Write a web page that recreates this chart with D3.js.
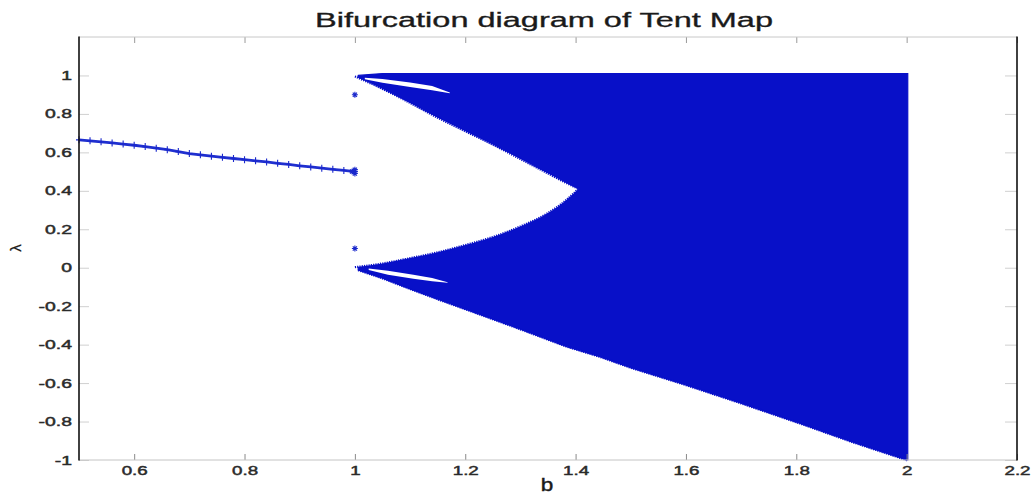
<!DOCTYPE html>
<html>
<head>
<meta charset="utf-8">
<script src="https://cdn.jsdelivr.net/npm/d3@7/dist/d3.min.js"></script>
<style>
  html, body { margin: 0; padding: 0; background: #fff; }
  svg { display: block; }
  text { font-family: "Liberation Sans", Arial, Helvetica, sans-serif; }
</style>
</head>
<body>
<svg id="chart" width="1033" height="496"></svg>
<script>
// ---- data -------------------------------------------------------------
// stable branch of the tent map (b < 1)
const branchB   = [0.50,0.52,0.54,0.56,0.58,0.60,0.62,0.64,0.66,0.68,0.70,0.72,0.74,
                   0.76,0.78,0.80,0.82,0.84,0.86,0.88,0.90,0.92,0.94,0.96,0.98,1.00];
const branchVal = [0.665,0.660,0.655,0.649,0.643,0.637,0.630,0.622,0.614,0.604,0.594,0.587,0.580,
                   0.574,0.568,0.562,0.556,0.550,0.543,0.537,0.530,0.524,0.518,0.512,0.506,0.500];

// isolated iterates at b = 1
const pointB   = [1.0, 1.0, 1.0, 1.0, 0.995];
const pointVal = [0.90, 0.10, 0.49, 0.51, 0.50];

// chaotic band envelope (b >= 1)
const envB      = [1.006, 1.05, 1.10, 1.154, 1.20, 1.30, 1.384, 1.444, 1.50, 1.60, 1.70, 1.807, 1.90, 2.00, 2.002];
const envTop    = [1.00, 1.01, 1.01, 1.01, 1.01, 1.01, 1.01, 1.01, 1.01, 1.01, 1.01, 1.01, 1.01, 1.01, 1.01];
const envBottom = [-0.012, -0.055, -0.11, -0.168, -0.215, -0.32, -0.41, -0.463, -0.52, -0.61, -0.705, -0.81, -0.905, -1.0, -1.0];

// empty window between the two bands, closing at b ≈ 1.405
const gapB      = [1.000, 1.05, 1.10, 1.15, 1.20, 1.25, 1.30, 1.35, 1.38, 1.405];
const gapTop    = [0.995, 0.93, 0.857, 0.78, 0.71, 0.64, 0.565, 0.49, 0.445, 0.41];
const gapBottom = [0.003, 0.022, 0.05, 0.08, 0.118, 0.16, 0.215, 0.285, 0.345, 0.41];

// thin empty slivers inside the upper and lower bands
const upLensB   = [1.018, 1.05, 1.10, 1.14, 1.172];
const upLensTop = [0.988, 0.982, 0.963, 0.945, 0.911];
const upLensBot = [0.980, 0.962, 0.940, 0.923, 0.908];
const loLensB   = [1.025, 1.06, 1.106, 1.14, 1.168];
const loLensTop = [-0.004, -0.016, -0.036, -0.054, -0.075];
const loLensBot = [-0.012, -0.036, -0.057, -0.070, -0.078];

// axes
const xTicks = [0.6, 0.8, 1, 1.2, 1.4, 1.6, 1.8, 2, 2.2];
const xTickLabels = ["0.6", "0.8", "1", "1.2", "1.4", "1.6", "1.8", "2", "2.2"];
const yTicks = [-1, -0.8, -0.6, -0.4, -0.2, 0, 0.2, 0.4, 0.6, 0.8, 1];
const yTickLabels = ["-1", "-0.8", "-0.6", "-0.4", "-0.2", "0", "0.2", "0.4", "0.6", "0.8", "1"];
const titleText = "Bifurcation diagram of Tent Map";
const xLabel = "b";
const yLabel = "λ";

// ---- layout -----------------------------------------------------------
const axLeft = 79, axRight = 1017, axTop = 37, axBottom = 460;
const BLUE = "#0810c8";

const svg = d3.select("#chart");
const x = d3.scaleLinear().domain([0.5, 2.2]).range([axLeft, axRight]);
const y = d3.scaleLinear().domain([-1, 1.2]).range([axBottom, axTop]);

// widen text horizontally to a given factor of its natural width
function stretch(sel, k) {
  sel.each(function () {
    const len = this.getComputedTextLength();
    d3.select(this).attr("textLength", len * k).attr("lengthAdjust", "spacingAndGlyphs");
  });
}

const zip3 = (b, hi, lo) => b.map((v, i) => ({ b: v, hi: hi[i], lo: lo[i] }));
const area = d3.area().x(d => x(d.b)).y0(d => y(d.lo)).y1(d => y(d.hi));
const edge = d3.line().x(d => x(d.b)).y(d => y(d.v));
const pairs = (b, v) => b.map((bb, i) => ({ b: bb, v: v[i] }));

const plot = svg.append("g");

// chaotic band
plot.append("path")
  .datum(zip3(envB, envTop, envBottom))
  .attr("d", area)
  .attr("fill", BLUE)
  .attr("stroke", BLUE)
  .attr("stroke-width", 1.2);

// ragged lower edge of the band
plot.append("path")
  .datum(pairs(envB, envBottom))
  .attr("d", edge)
  .attr("fill", "none")
  .attr("stroke", BLUE)
  .attr("stroke-width", 2.4)
  .attr("stroke-dasharray", "1.2 1.1");

// window and slivers
plot.append("path")
  .datum(zip3(gapB, gapTop, gapBottom))
  .attr("d", area.curve(d3.curveMonotoneX))
  .attr("fill", "#fff");
[gapTop, gapBottom].forEach(vs => {
  plot.append("path")
    .datum(pairs(gapB, vs))
    .attr("d", edge.curve(d3.curveMonotoneX))
    .attr("fill", "none")
    .attr("stroke", BLUE)
    .attr("stroke-width", 2.2)
    .attr("stroke-dasharray", "1.2 1.1");
});
area.curve(d3.curveLinear);
edge.curve(d3.curveLinear);
plot.append("path")
  .datum(zip3(upLensB, upLensTop, upLensBot))
  .attr("d", area)
  .attr("fill", "#fff");
plot.append("path")
  .datum(zip3(loLensB, loLensTop, loLensBot))
  .attr("d", area)
  .attr("fill", "#fff");

// stable branch: trace plus '+' markers
plot.append("path")
  .datum(pairs(branchB, branchVal))
  .attr("d", edge)
  .attr("fill", "none")
  .attr("stroke", "#2030d0")
  .attr("stroke-width", 2.8);
plot.append("g").selectAll("path")
  .data(pairs(branchB, branchVal))
  .join("path")
  .attr("d", d => `M${x(d.b) - 3},${y(d.v)}H${x(d.b) + 3}M${x(d.b)},${y(d.v) - 3.5}V${y(d.v) + 3.5}`)
  .attr("stroke", "#1a28cc")
  .attr("stroke-width", 1.1)
  .attr("fill", "none");

// '*' markers at b = 1
plot.append("g").selectAll("path")
  .data(pairs(pointB, pointVal))
  .join("path")
  .attr("d", d => {
    const cx = x(d.b), cy = y(d.v), r = 3;
    return `M${cx - r},${cy}H${cx + r}M${cx},${cy - r}V${cy + r}` +
           `M${cx - r * 0.7},${cy - r * 0.7}L${cx + r * 0.7},${cy + r * 0.7}` +
           `M${cx - r * 0.7},${cy + r * 0.7}L${cx + r * 0.7},${cy - r * 0.7}`;
  })
  .attr("stroke", "#1a28cc")
  .attr("stroke-width", 1.1)
  .attr("fill", "none");

// ---- axes -------------------------------------------------------------
const axB = svg.append("g").attr("transform", `translate(0,${axBottom})`)
  .call(d3.axisBottom(x).tickValues(xTicks).tickFormat((d, i) => xTickLabels[i])
        .tickSize(-6).tickPadding(6.5));
const axT = svg.append("g").attr("transform", `translate(0,${axTop})`)
  .call(d3.axisTop(x).tickValues(xTicks).tickFormat("").tickSize(-6));
const axL = svg.append("g").attr("transform", `translate(${axLeft},0)`)
  .call(d3.axisLeft(y).tickValues(yTicks).tickFormat((d, i) => yTickLabels[i])
        .tickSize(-10).tickPadding(7));
const axR = svg.append("g").attr("transform", `translate(${axRight},0)`)
  .call(d3.axisRight(y).tickValues(yTicks).tickFormat("").tickSize(-12));

[axB, axT, axL, axR].forEach(g => g.select(".domain").remove());
axB.selectAll(".tick line").attr("stroke", "#8a8a8a");
axT.selectAll(".tick line").attr("stroke", "#9a9a9a");
axL.selectAll(".tick line").attr("stroke", "#d0d0d0");
axR.selectAll(".tick line").attr("stroke", "#d0d0d0");
[axB, axL].forEach(g => g.selectAll(".tick text")
  .attr("font-size", 12.5).attr("fill", "#2a2a2a")
  .attr("stroke", "#2a2a2a").attr("stroke-width", 0.45)
  .style("font-family", '"Liberation Sans", Arial, sans-serif'));
stretch(axB.selectAll(".tick text"), 1.5);
stretch(axL.selectAll(".tick text"), 1.55);

// axes box
svg.append("line").attr("x1", axLeft).attr("x2", axRight).attr("y1", axTop).attr("y2", axTop)
  .attr("stroke", "#c8c8c8").attr("stroke-width", 1);
svg.append("line").attr("x1", axLeft).attr("x2", axRight).attr("y1", axBottom).attr("y2", axBottom)
  .attr("stroke", "#c4c4c4").attr("stroke-width", 1);
svg.append("line").attr("x1", axLeft).attr("x2", axLeft).attr("y1", axTop - 0.5).attr("y2", axBottom + 0.5)
  .attr("stroke", "#111").attr("stroke-width", 1.6);
svg.append("line").attr("x1", axRight).attr("x2", axRight).attr("y1", axTop - 0.5).attr("y2", axBottom + 0.5)
  .attr("stroke", "#111").attr("stroke-width", 1.6);

// ---- labels -----------------------------------------------------------
svg.append("text")
  .attr("x", 544).attr("y", 27)
  .attr("text-anchor", "middle")
  .attr("font-size", 19.5)
  .attr("fill", "#1a1a1a")
  .attr("stroke", "#1a1a1a").attr("stroke-width", 0.3)
  .text(titleText)
  .attr("textLength", 458).attr("lengthAdjust", "spacingAndGlyphs");

svg.append("text")
  .attr("x", 547).attr("y", 491)
  .attr("text-anchor", "middle")
  .attr("font-size", 18)
  .attr("fill", "#1a1a1a")
  .attr("stroke", "#1a1a1a").attr("stroke-width", 0.4)
  .text(xLabel)
  .call(s => stretch(s, 1.25));

svg.append("text")
  .attr("transform", "translate(21,248) rotate(-90)")
  .attr("text-anchor", "middle")
  .attr("font-size", 15)
  .attr("fill", "#1a1a1a")
  .attr("stroke", "#1a1a1a").attr("stroke-width", 0.3)
  .text(yLabel);
</script>
</body>
</html>
